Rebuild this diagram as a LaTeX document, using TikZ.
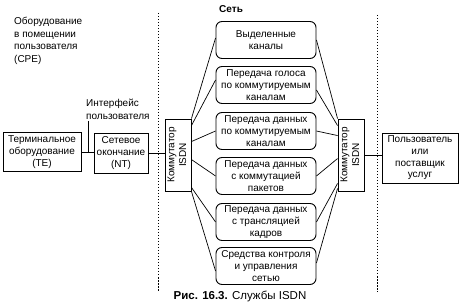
\documentclass[tikz,border=0pt]{standalone}
\usepackage{fontspec}
\setmainfont{Liberation Sans}
\begin{document}
\begin{tikzpicture}[
  x=1pt, y=-1pt,
  font=\fontsize{10}{11.7}\selectfont,
  note/.style={align=left, inner sep=0pt, font=\fontsize{10}{12.7}\selectfont},
  plain/.style={draw, line width=0.9pt, align=center, inner sep=1pt},
  switchbox/.style={draw, line width=0.9pt, minimum width=26pt, minimum height=72pt, inner sep=0pt},
  service/.style={draw, rounded corners=6pt, line width=0.9pt, align=center, minimum width=100pt, minimum height=37pt, inner sep=0.5pt},
  border/.style={line width=0.9pt, dash pattern=on 1.5pt off 1.5pt},
  link/.style={line width=0.8pt},
  fan/.style={line width=0.7pt}
]
\useasboundingbox (0,0) rectangle (461,307);

\node[note, anchor=north west] (cpe) at (14,17)
  {Оборудование\\в помещении\\пользователя\\(CPE)};
\node[note, anchor=north west] (iface) at (86,99)
  {Интерфейс\\пользователя};

\node[plain, minimum width=78pt, minimum height=39pt] (te) at (42,152)
  {Терминальное\\оборудование\\(TE)};
\node[plain, minimum width=54pt, minimum height=40pt] (nt) at (121,153)
  {Сетевое\\окончание\\(NT)};

\node[switchbox] (swl) at (178,155)
  {\rotatebox{90}{\begin{tabular}{@{}c@{}}Коммутатор\\ISDN\end{tabular}}};
\node[switchbox] (swr) at (351,155)
  {\rotatebox{90}{\begin{tabular}{@{}c@{}}Коммутатор\\ISDN\end{tabular}}};

\node[plain, minimum width=76pt, minimum height=50pt] (user) at (420,158)
  {Пользователь\\или\\поставщик\\услуг};

% network services
\node[font=\fontsize{10}{11.7}\selectfont\bfseries, anchor=west, inner sep=0pt] (net) at (219,9) {Сеть};
\node[service] (ded) at (266,40) {Выделенные\\каналы};
\node[service] (voice) at (266,85) {Передача голоса\\по коммутируемым\\каналам};
\node[service] (cdata) at (266,131) {Передача данных\\по коммутируемым\\каналам};
\node[service] (packet) at (266,176) {Передача данных\\с коммутацией\\пакетов};
\node[service] (frame) at (266,222) {Передача данных\\с трансляцией\\кадров};
\node[service] (mgmt) at (266,266) {Средства контроля\\и управления\\сетью};

\node[font=\fontsize{11.5}{13}\selectfont] (caption) at (240,296) {\textbf{Рис. 16.3.} Службы ISDN};

% boundaries
\coordinate (cpetop) at (158,13);
\coordinate (cpebot) at (158,292);
\coordinate (usertop) at (377,15);
\coordinate (userbot) at (377,292);
\draw[border] (cpetop) -- (cpebot);
\draw[border] (usertop) -- (userbot);

\draw[link] (te.east) -- (te.east -| nt.west);
\draw[link] (nt.east) -- (nt.east -| swl.west);
\draw[link] (swr.east) -- (swr.east -| user.west);
\coordinate (ifacetick) at (88,121);
\draw[link] (ifacetick) -- (ifacetick |- te.east);

\draw[fan] (swl.north east) -- ([yshift=2pt]ded.west);
\draw[fan] ([yshift=-7pt]swl.north east) -- ([yshift=5pt]voice.west);
\draw[fan] ([yshift=-23pt]swl.north east) -- (cdata.west);
\draw[fan] ([yshift=-41pt]swl.north east) -- (packet.west);
\draw[fan] ([yshift=4pt]swl.south east) -- (frame.west);
\draw[fan] (swl.south east) -- ([yshift=-5pt]mgmt.west);

\draw[fan] (swr.north west) -- (ded.east);
\draw[fan] ([yshift=-7pt]swr.north west) -- ([yshift=-5pt]voice.east);
\draw[fan] ([yshift=-17pt]swr.north west) -- (cdata.east);
\draw[fan] ([yshift=-40pt]swr.north west) -- (packet.east);
\draw[fan] ([yshift=8pt]swr.south west) -- (frame.east);
\draw[fan] ([yshift=3pt]swr.south west) -- ([yshift=3pt]mgmt.east);
\end{tikzpicture}
\end{document}
